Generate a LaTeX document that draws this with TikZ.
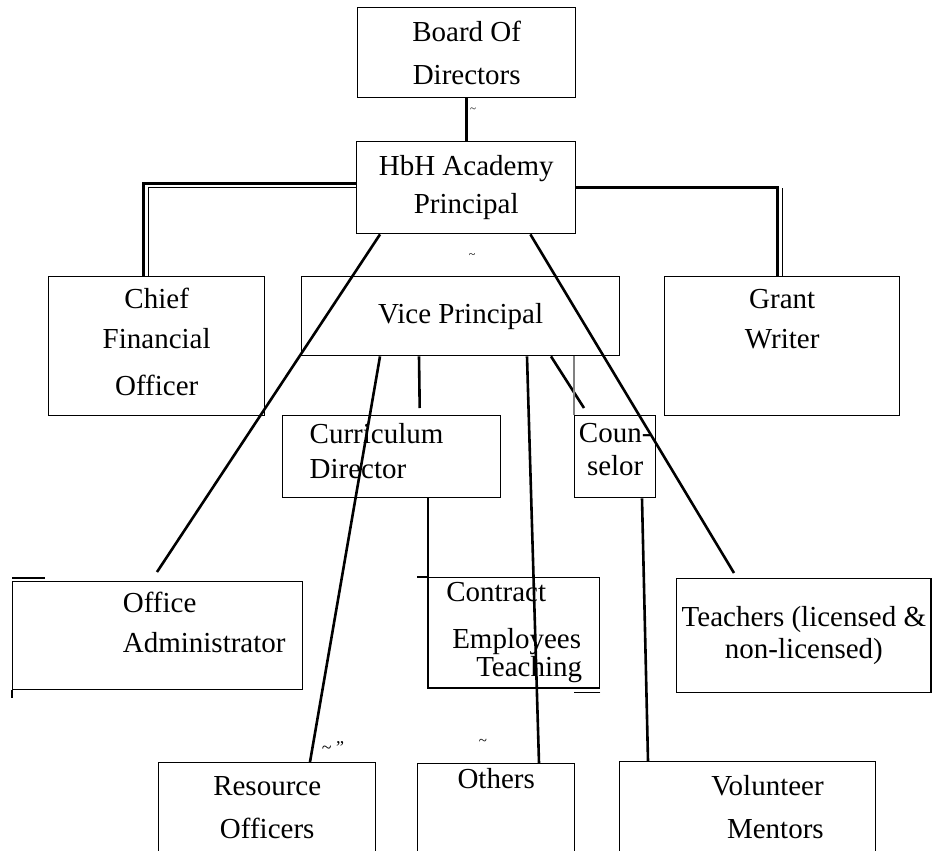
\documentclass[tikz,border=0pt]{standalone}
\usepackage{fontspec}
\setmainfont{Liberation Serif}

\begin{document}
\begin{tikzpicture}[x=1pt, y=-1pt, box/.style={draw,line width=1.4pt,anchor=north west,align=center,inner sep=5pt,font=\fontsize{29}{34}\selectfont}, link/.style={line width=2.6pt}, rule/.style={line width=1.2pt}, speck/.style={inner sep=0pt}]
\useasboundingbox (0,0) rectangle (934,851);
\clip (0,0) rectangle (934,851);
% top of the chart
\node[box,minimum width=218pt,minimum height=90pt] (board) at (357,7) {Board Of\\[9pt]Directors};
\node[box,minimum width=219pt,minimum height=92pt] (prin) at (356,141) {HbH Academy\\[4pt]Principal};
\node[box,minimum width=216pt,minimum height=139pt,text depth=8pt] (cfo) at (48,276) {Chief\\[6pt]Financial\\[13pt]Officer};
\node[box,minimum width=318pt,minimum height=79pt] (vp) at (301,276) {Vice Principal};
\node[box,minimum width=235pt,minimum height=139pt,text depth=55pt] (grant) at (664,276) {Grant\\[6pt]Writer};
% middle row
\node[box,minimum width=218pt,minimum height=82pt,text width=164pt,inner xsep=27pt,align=left,text depth=46pt] (curdir) at (282,415) {Curriculum\\[1pt]Director};
\node[box,minimum width=81pt,minimum height=82pt,inner xsep=3pt,text depth=15pt] (counsel) at (574,415) {Coun-\\[-1pt]selor};
\node[box,minimum width=290pt,minimum height=108pt,align=left,text depth=26pt] (offadm) at (12,581) {\hspace*{93pt}Office\\[6pt]\hspace*{93pt}Administrator};
\node[box,minimum width=171pt,minimum height=110pt,align=left] (contract) at (428,577) {Contract\\[13pt]\hspace*{6pt}Employees\\[-6pt]\hspace*{30pt}Teaching};
\node[box,minimum width=254pt,minimum height=114pt] (teach) at (676,578) {Teachers (licensed \&\\[-2pt]non-licensed)};
% bottom row, running off the page
\node[box,minimum width=217pt,minimum height=90pt] (res) at (158,762) {Resource\\[9pt]Officers};
\node[box,minimum width=157pt,minimum height=89pt,text depth=59pt] (others) at (417,763) {Others};
\node[box,minimum width=256pt,minimum height=91pt,text width=152pt,inner xsep=52pt,align=right] (vol) at (619,761) {Volunteer\\[9pt]Mentors};

\draw[link] (board.south) -- (board.south |- prin.north);
\draw[link] ([yshift=4pt]prin.west) -| ([xshift=-13pt]cfo.north);
\draw[rule] (prin.west) -| ([xshift=-8pt]cfo.north);
\draw[link] (prin.east) -| ([xshift=-5pt]grant.north);
\draw[rule] (grant.north) -- ++(0,-88);
\draw[link] ([xshift=24pt]prin.south west) -- ([xshift=145pt,yshift=9pt]offadm.north west);
\draw[link] ([xshift=-46pt]prin.south east) -- ([xshift=58pt,yshift=5pt]teach.north west);
\draw[link] ([xshift=79pt]vp.south west) -- ([xshift=152pt]res.north west);
\draw[link] ([xshift=118pt]vp.south west) -- ([xshift=28pt,yshift=7pt]curdir.north);
\draw[link] ([xshift=226pt]vp.south west) -- ([xshift=122pt]others.north west);
\draw[link] ([xshift=250pt]vp.south west) -- ([xshift=10pt,yshift=7pt]counsel.north west);
\draw[link] (contract.west |- curdir.south) -- (contract.south west);
\draw[link] ([xshift=68pt]counsel.south west) -- ([xshift=29pt]vol.north west);
\draw[rule,gray] (counsel.north west) -- (counsel.north west |- vp.south);

% stray strokes round the boxes
\draw[rule] (contract.north west) -- ++(-11,0);
\draw[rule] ([yshift=-4pt]contract.south east) -- ++(-26,0);
\draw[rule] (offadm.south west) -- ++(0,8);
\draw[rule] ([yshift=3pt]offadm.north west) -- ++(33,0);

\node[speck,font=\fontsize{11}{11}\selectfont] (tl1) at (473,110) {\textasciitilde};
\node[speck,font=\fontsize{12}{12}\selectfont] (tl2) at (472,256) {\textasciitilde};
\node[speck,font=\fontsize{18}{18}\selectfont] (tl3) at (333,748) {\textasciitilde\ ''};
\node[speck,font=\fontsize{15}{15}\selectfont] (tl4) at (483,742) {\textasciitilde};
\end{tikzpicture}
\end{document}
